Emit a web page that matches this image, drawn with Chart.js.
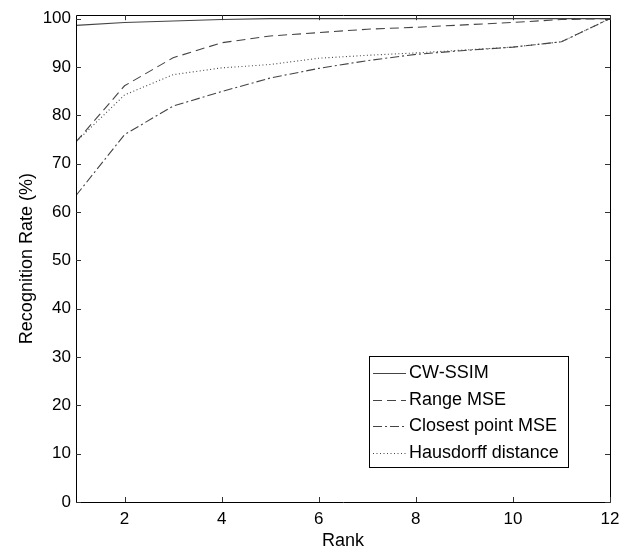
<!DOCTYPE html>
<html>
<head>
<meta charset="utf-8">
<script src="https://cdn.jsdelivr.net/npm/chart.js@4/dist/chart.umd.min.js"></script>
<style>
  html, body { margin: 0; padding: 0; background: #fff; }
  #wrap { width: 631px; height: 553px; }
</style>
</head>
<body>
<div id="wrap"><canvas id="rankChart" width="631" height="553"></canvas></div>
<script>
// values
var ranks = [1, 2, 3, 4, 5, 6, 7, 8, 9, 10, 11, 12];
var cwSsim = [98.6, 99.2, 99.5, 99.8, 100, 100, 100, 100, 100, 100, 100, 100];
var rangeMse = [74.5, 86.1, 91.9, 95.0, 96.4, 97.1, 97.8, 98.2, 98.7, 99.2, 99.8, 100];
var closestMse = [63.4, 76.0, 81.9, 84.9, 87.7, 89.7, 91.3, 92.6, 93.4, 94.1, 95.2, 100];
var hausdorff = [74.5, 84.2, 88.4, 89.8, 90.5, 91.8, 92.4, 92.9, 93.5, 94.1, 95.2, 100];

var seriesNames = ['CW-SSIM', 'Range MSE', 'Closest point MSE', 'Hausdorff distance'];
var xTicks = [2, 4, 6, 8, 10, 12];
var yTicks = [0, 10, 20, 30, 40, 50, 60, 70, 80, 90, 100];

var FONT = "'Liberation Sans', Arial, Helvetica, sans-serif";
var lineColor = '#444';

function pts(vals) {
  return ranks.map(function(r, i) { return { x: r, y: vals[i] }; });
}

function ds(label, vals, dash) {
  return {
    label: label,
    data: pts(vals),
    borderColor: lineColor,
    borderWidth: 1.1,
    borderDash: dash,
    pointRadius: 0,
    tension: 0,
    fill: false
  };
}

// matlab style box with inward ticks on all four sides
var boxPlugin = {
  id: 'matlabBox',
  afterDatasetsDraw: function(chart) {
    var c = chart.ctx, a = chart.chartArea;
    var xs = chart.scales.x, ys = chart.scales.y;
    c.save();
    c.strokeStyle = '#000';
    c.lineWidth = 1;
    c.beginPath();
    c.rect(Math.round(a.left) + 0.5, Math.round(a.top) + 0.5,
           Math.round(a.right - a.left), Math.round(a.bottom - a.top));
    c.stroke();
    c.strokeStyle = '#333';
    c.beginPath();
    xTicks.forEach(function(v) {
      var px = Math.round(xs.getPixelForValue(v)) + 0.5;
      c.moveTo(px, a.bottom); c.lineTo(px, a.bottom - 5);
      c.moveTo(px, a.top); c.lineTo(px, a.top + 5);
    });
    yTicks.forEach(function(v) {
      var py = Math.round(ys.getPixelForValue(v)) + 0.5;
      c.moveTo(a.left, py); c.lineTo(a.left + 5, py);
      c.moveTo(a.right, py); c.lineTo(a.right - 5, py);
    });
    c.stroke();

    // legend box inside the axes, lower right
    var bx = Math.round(a.right) - 241, by = Math.round(a.bottom) - 146;
    var bw = 199, bh = 111;
    c.fillStyle = '#fff';
    c.fillRect(bx, by, bw, bh);
    c.strokeStyle = '#000';
    c.strokeRect(bx + 0.5, by + 0.5, bw, bh);
    c.font = '18px ' + FONT;
    c.textBaseline = 'middle';
    c.textAlign = 'left';
    chart.data.datasets.forEach(function(d, i) {
      var yy = by + 17 + i * 26.7;
      c.strokeStyle = d.borderColor;
      c.setLineDash(d.borderDash || []);
      c.beginPath();
      c.moveTo(bx + 4, Math.round(yy) + 0.5);
      c.lineTo(bx + 37, Math.round(yy) + 0.5);
      c.stroke();
      c.setLineDash([]);
      c.fillStyle = '#000';
      c.fillText(d.label, bx + 40, yy);
    });
    c.restore();
  }
};

var ctx = document.getElementById('rankChart');

var chart = new Chart(ctx, {
  type: 'line',
  data: {
    datasets: [
      ds(seriesNames[0], cwSsim, []),
      ds(seriesNames[1], rangeMse, [9, 5]),
      ds(seriesNames[2], closestMse, [9, 3, 2, 3]),
      ds(seriesNames[3], hausdorff, [1, 2.5])
    ]
  },
  options: {
    responsive: false,
    animation: false,
    layout: { padding: { left: 0, right: 21, top: 12, bottom: 0 } },
    plugins: {
      legend: { display: false },
      tooltip: { enabled: false }
    },
    scales: {
      x: {
        type: 'linear',
        min: 1,
        max: 12,
        grid: { display: false, drawTicks: false },
        border: { display: false },
        afterBuildTicks: function(s) { s.ticks = xTicks.map(function(v) { return { value: v }; }); },
        afterFit: function(s) { s.height = 51; },
        ticks: { color: '#000', padding: 7, maxRotation: 0, font: { family: FONT, size: 17 } },
        title: { display: true, text: 'Rank', color: '#000', padding: { top: 0, bottom: 1 }, font: { family: FONT, size: 18 } }
      },
      y: {
        min: 0,
        max: 100.7,
        grid: { display: false, drawTicks: false },
        border: { display: false },
        afterBuildTicks: function(s) { s.ticks = yTicks.map(function(v) { return { value: v }; }); },
        afterFit: function(s) { s.width = 76; },
        ticks: { color: '#000', padding: 5, font: { family: FONT, size: 17 } },
        title: { display: true, text: 'Recognition Rate (%)', color: '#000', padding: { top: 16, bottom: 0 }, font: { family: FONT, size: 18 } }
      }
    }
  },
  plugins: [boxPlugin]
});
</script>
</body>
</html>
